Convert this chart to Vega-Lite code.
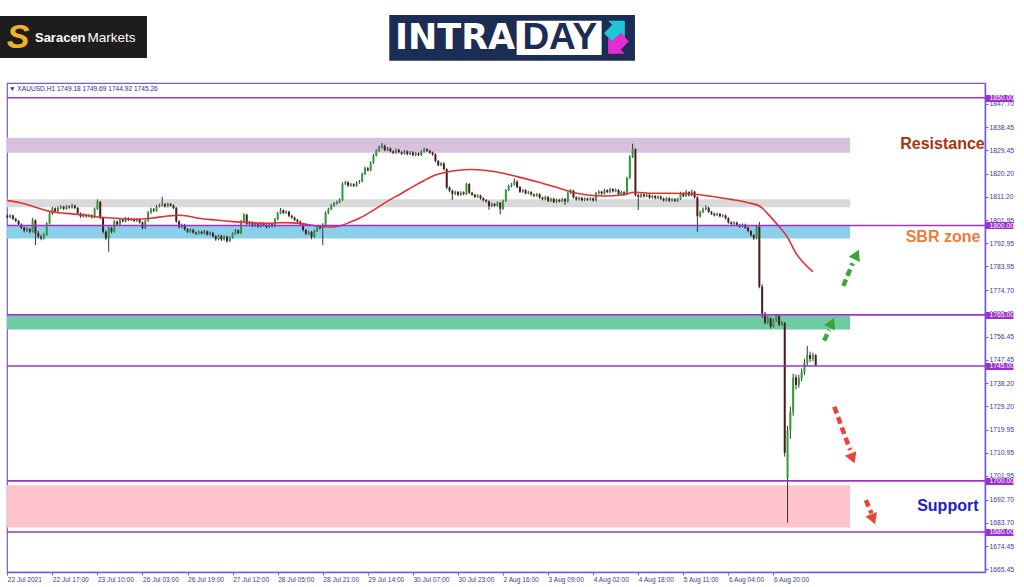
{
"$schema": "https://vega.github.io/schema/vega-lite/v6.json",
"width": 978, "height": 489,
"autosize": {"type": "none"},
"padding": {"left": 7, "top": 83, "right": 39, "bottom": 15},
"background": "white",
"config": {"font": "Liberation Sans", "view": {"stroke": "#6c5ce7", "strokeWidth": 1.2}, "axis": {"labelOverlap": false}, "scale": {"continuousPadding": 0}},
"datasets": {
"candles": [
{"i":0,"o":1803.8,"h":1804.3,"l":1802.7,"c":1803.2},{"i":1,"o":1803.2,"h":1804.4,"l":1802.8,"c":1803.9},{"i":2,"o":1803.9,"h":1804.2,"l":1802.1,"c":1802.6},{"i":3,"o":1802.6,"h":1803.0,"l":1801.2,"c":1801.8},{"i":4,"o":1801.8,"h":1802.1,"l":1799.9,"c":1800.4},{"i":5,"o":1800.4,"h":1800.8,"l":1798.5,"c":1799.1},{"i":6,"o":1799.1,"h":1799.5,"l":1797.2,"c":1798.0},{"i":7,"o":1798.0,"h":1799.3,"l":1797.5,"c":1798.6},{"i":8,"o":1798.6,"h":1799.0,"l":1796.9,"c":1797.6},{"i":9,"o":1797.6,"h":1802.9,"l":1797.2,"c":1802.0},
{"i":10,"o":1802.0,"h":1802.4,"l":1792.3,"c":1797.0},{"i":11,"o":1797.0,"h":1797.8,"l":1794.9,"c":1795.6},{"i":12,"o":1795.6,"h":1796.3,"l":1794.2,"c":1794.9},{"i":13,"o":1794.9,"h":1797.0,"l":1794.5,"c":1796.4},{"i":14,"o":1796.4,"h":1801.3,"l":1796.0,"c":1800.8},{"i":15,"o":1800.8,"h":1805.2,"l":1800.3,"c":1804.6},{"i":16,"o":1804.6,"h":1807.3,"l":1804.1,"c":1806.7},{"i":17,"o":1806.7,"h":1807.1,"l":1805.0,"c":1805.6},{"i":18,"o":1805.6,"h":1807.4,"l":1805.2,"c":1806.9},{"i":19,"o":1806.9,"h":1807.9,"l":1806.4,"c":1807.3},
{"i":20,"o":1807.3,"h":1807.7,"l":1806.0,"c":1806.5},{"i":21,"o":1806.5,"h":1807.9,"l":1806.1,"c":1807.4},{"i":22,"o":1807.4,"h":1807.8,"l":1806.5,"c":1807.0},{"i":23,"o":1807.0,"h":1808.4,"l":1806.6,"c":1807.8},{"i":24,"o":1807.8,"h":1808.1,"l":1806.4,"c":1806.9},{"i":25,"o":1806.9,"h":1807.2,"l":1804.2,"c":1804.7},{"i":26,"o":1804.7,"h":1805.1,"l":1803.0,"c":1803.5},{"i":27,"o":1803.5,"h":1804.8,"l":1803.1,"c":1804.2},{"i":28,"o":1804.2,"h":1804.6,"l":1803.1,"c":1803.6},{"i":29,"o":1803.6,"h":1804.5,"l":1803.2,"c":1804.0},
{"i":30,"o":1804.0,"h":1804.3,"l":1802.7,"c":1803.2},{"i":31,"o":1803.2,"h":1807.0,"l":1802.9,"c":1806.5},{"i":32,"o":1806.5,"h":1810.2,"l":1806.1,"c":1809.2},{"i":33,"o":1809.2,"h":1809.6,"l":1802.4,"c":1803.0},{"i":34,"o":1803.0,"h":1803.4,"l":1796.8,"c":1797.5},{"i":35,"o":1797.5,"h":1798.0,"l":1794.2,"c":1795.0},{"i":36,"o":1795.0,"h":1799.6,"l":1789.7,"c":1799.0},{"i":37,"o":1799.0,"h":1799.5,"l":1796.9,"c":1797.6},{"i":38,"o":1797.6,"h":1802.1,"l":1797.2,"c":1801.5},{"i":39,"o":1801.5,"h":1801.9,"l":1799.8,"c":1800.4},
{"i":40,"o":1800.4,"h":1802.7,"l":1800.0,"c":1802.2},{"i":41,"o":1802.2,"h":1802.6,"l":1801.1,"c":1801.6},{"i":42,"o":1801.6,"h":1803.3,"l":1801.2,"c":1802.8},{"i":43,"o":1802.8,"h":1803.2,"l":1801.6,"c":1802.1},{"i":44,"o":1802.1,"h":1803.0,"l":1801.7,"c":1802.5},{"i":45,"o":1802.5,"h":1802.9,"l":1801.3,"c":1801.8},{"i":46,"o":1801.8,"h":1802.9,"l":1801.4,"c":1802.4},{"i":47,"o":1802.4,"h":1802.7,"l":1800.7,"c":1801.2},{"i":48,"o":1801.2,"h":1801.5,"l":1798.4,"c":1799.0},{"i":49,"o":1799.0,"h":1802.3,"l":1798.6,"c":1801.8},
{"i":50,"o":1801.8,"h":1805.6,"l":1801.4,"c":1805.0},{"i":51,"o":1805.0,"h":1806.9,"l":1804.6,"c":1806.3},{"i":52,"o":1806.3,"h":1806.8,"l":1805.2,"c":1805.8},{"i":53,"o":1805.8,"h":1808.0,"l":1805.4,"c":1807.4},{"i":54,"o":1807.4,"h":1808.5,"l":1807.0,"c":1807.9},{"i":55,"o":1807.9,"h":1811.2,"l":1807.4,"c":1808.3},{"i":56,"o":1808.3,"h":1808.8,"l":1807.0,"c":1807.5},{"i":57,"o":1807.5,"h":1808.9,"l":1807.1,"c":1808.4},{"i":58,"o":1808.4,"h":1808.8,"l":1807.3,"c":1807.8},{"i":59,"o":1807.8,"h":1808.2,"l":1806.4,"c":1806.9},
{"i":60,"o":1806.9,"h":1807.2,"l":1801.0,"c":1801.6},{"i":61,"o":1801.6,"h":1802.0,"l":1798.8,"c":1799.4},{"i":62,"o":1799.4,"h":1800.7,"l":1799.0,"c":1800.2},{"i":63,"o":1800.2,"h":1800.6,"l":1797.9,"c":1798.5},{"i":64,"o":1798.5,"h":1798.9,"l":1797.0,"c":1797.6},{"i":65,"o":1797.6,"h":1798.8,"l":1797.2,"c":1798.3},{"i":66,"o":1798.3,"h":1798.7,"l":1796.7,"c":1797.2},{"i":67,"o":1797.2,"h":1797.6,"l":1796.2,"c":1796.8},{"i":68,"o":1796.8,"h":1798.0,"l":1796.4,"c":1797.5},{"i":69,"o":1797.5,"h":1797.9,"l":1796.4,"c":1796.9},
{"i":70,"o":1796.9,"h":1798.2,"l":1796.5,"c":1797.7},{"i":71,"o":1797.7,"h":1798.0,"l":1796.0,"c":1796.5},{"i":72,"o":1796.5,"h":1797.6,"l":1796.1,"c":1797.1},{"i":73,"o":1797.1,"h":1797.4,"l":1795.2,"c":1795.8},{"i":74,"o":1795.8,"h":1796.2,"l":1794.0,"c":1794.6},{"i":75,"o":1794.6,"h":1796.4,"l":1794.2,"c":1795.9},{"i":76,"o":1795.9,"h":1796.3,"l":1793.9,"c":1794.5},{"i":77,"o":1794.5,"h":1796.1,"l":1794.1,"c":1795.6},{"i":78,"o":1795.6,"h":1796.0,"l":1793.2,"c":1793.9},{"i":79,"o":1793.9,"h":1795.7,"l":1793.5,"c":1795.2},
{"i":80,"o":1795.2,"h":1797.3,"l":1794.8,"c":1796.8},{"i":81,"o":1796.8,"h":1798.6,"l":1796.4,"c":1798.1},{"i":82,"o":1798.1,"h":1798.5,"l":1796.5,"c":1797.0},{"i":83,"o":1797.0,"h":1802.2,"l":1796.6,"c":1801.6},{"i":84,"o":1801.6,"h":1804.8,"l":1801.2,"c":1804.2},{"i":85,"o":1804.2,"h":1804.6,"l":1800.0,"c":1800.6},{"i":86,"o":1800.6,"h":1801.8,"l":1800.1,"c":1801.3},{"i":87,"o":1801.3,"h":1801.6,"l":1799.3,"c":1799.8},{"i":88,"o":1799.8,"h":1801.2,"l":1799.4,"c":1800.7},{"i":89,"o":1800.7,"h":1801.0,"l":1799.0,"c":1799.5},
{"i":90,"o":1799.5,"h":1801.4,"l":1799.1,"c":1800.9},{"i":91,"o":1800.9,"h":1801.3,"l":1799.6,"c":1800.1},{"i":92,"o":1800.1,"h":1800.5,"l":1798.8,"c":1799.3},{"i":93,"o":1799.3,"h":1801.0,"l":1799.0,"c":1800.5},{"i":94,"o":1800.5,"h":1800.9,"l":1799.2,"c":1799.7},{"i":95,"o":1799.7,"h":1802.9,"l":1799.3,"c":1802.4},{"i":96,"o":1802.4,"h":1805.3,"l":1802.0,"c":1804.8},{"i":97,"o":1804.8,"h":1806.8,"l":1804.4,"c":1805.9},{"i":98,"o":1805.9,"h":1806.3,"l":1804.4,"c":1804.9},{"i":99,"o":1804.9,"h":1805.9,"l":1804.5,"c":1805.4},
{"i":100,"o":1805.4,"h":1805.7,"l":1803.3,"c":1803.8},{"i":101,"o":1803.8,"h":1804.2,"l":1802.6,"c":1803.1},{"i":102,"o":1803.1,"h":1803.5,"l":1801.7,"c":1802.2},{"i":103,"o":1802.2,"h":1802.6,"l":1801.0,"c":1801.5},{"i":104,"o":1801.5,"h":1801.9,"l":1799.9,"c":1800.4},{"i":105,"o":1800.4,"h":1800.8,"l":1797.6,"c":1798.2},{"i":106,"o":1798.2,"h":1798.6,"l":1796.2,"c":1796.8},{"i":107,"o":1796.8,"h":1797.9,"l":1796.3,"c":1797.4},{"i":108,"o":1797.4,"h":1797.8,"l":1794.6,"c":1795.5},{"i":109,"o":1795.5,"h":1798.3,"l":1795.1,"c":1797.8},
{"i":110,"o":1797.8,"h":1800.1,"l":1797.4,"c":1799.6},{"i":111,"o":1799.6,"h":1800.1,"l":1798.4,"c":1798.9},{"i":112,"o":1798.9,"h":1800.8,"l":1792.3,"c":1800.2},{"i":113,"o":1800.2,"h":1805.5,"l":1799.8,"c":1804.9},{"i":114,"o":1804.9,"h":1806.9,"l":1804.4,"c":1806.3},{"i":115,"o":1806.3,"h":1808.3,"l":1805.9,"c":1807.8},{"i":116,"o":1807.8,"h":1809.2,"l":1807.3,"c":1808.6},{"i":117,"o":1808.6,"h":1809.7,"l":1808.1,"c":1809.1},{"i":118,"o":1809.1,"h":1810.6,"l":1808.7,"c":1810.0},{"i":119,"o":1810.0,"h":1816.9,"l":1809.6,"c":1816.3},
{"i":120,"o":1816.3,"h":1817.5,"l":1815.8,"c":1816.9},{"i":121,"o":1816.9,"h":1817.3,"l":1815.1,"c":1815.6},{"i":122,"o":1815.6,"h":1816.6,"l":1815.2,"c":1816.1},{"i":123,"o":1816.1,"h":1816.5,"l":1815.0,"c":1815.5},{"i":124,"o":1815.5,"h":1817.3,"l":1815.1,"c":1816.8},{"i":125,"o":1816.8,"h":1817.8,"l":1816.3,"c":1817.2},{"i":126,"o":1817.2,"h":1820.7,"l":1816.8,"c":1820.1},{"i":127,"o":1820.1,"h":1823.0,"l":1819.7,"c":1822.4},{"i":128,"o":1822.4,"h":1822.9,"l":1821.1,"c":1821.6},{"i":129,"o":1821.6,"h":1825.1,"l":1821.2,"c":1824.5},
{"i":130,"o":1824.5,"h":1828.0,"l":1824.1,"c":1827.4},{"i":131,"o":1827.4,"h":1829.8,"l":1827.0,"c":1829.2},{"i":132,"o":1829.2,"h":1831.2,"l":1828.8,"c":1830.6},{"i":133,"o":1830.6,"h":1832.3,"l":1830.1,"c":1831.2},{"i":134,"o":1831.2,"h":1831.6,"l":1829.0,"c":1829.5},{"i":135,"o":1829.5,"h":1830.7,"l":1829.1,"c":1830.1},{"i":136,"o":1830.1,"h":1830.5,"l":1828.5,"c":1829.0},{"i":137,"o":1829.0,"h":1829.4,"l":1827.9,"c":1828.4},{"i":138,"o":1828.4,"h":1830.1,"l":1828.0,"c":1829.6},{"i":139,"o":1829.6,"h":1830.0,"l":1828.2,"c":1828.7},
{"i":140,"o":1828.7,"h":1829.1,"l":1827.6,"c":1828.1},{"i":141,"o":1828.1,"h":1829.5,"l":1827.7,"c":1829.0},{"i":142,"o":1829.0,"h":1829.4,"l":1827.4,"c":1827.9},{"i":143,"o":1827.9,"h":1829.1,"l":1827.5,"c":1828.6},{"i":144,"o":1828.6,"h":1829.0,"l":1827.0,"c":1827.5},{"i":145,"o":1827.5,"h":1828.7,"l":1827.1,"c":1828.2},{"i":146,"o":1828.2,"h":1828.6,"l":1827.1,"c":1827.6},{"i":147,"o":1827.6,"h":1829.4,"l":1827.2,"c":1828.9},{"i":148,"o":1828.9,"h":1830.4,"l":1828.5,"c":1829.8},{"i":149,"o":1829.8,"h":1830.2,"l":1828.7,"c":1829.2},
{"i":150,"o":1829.2,"h":1829.6,"l":1828.0,"c":1828.5},{"i":151,"o":1828.5,"h":1828.9,"l":1827.3,"c":1827.8},{"i":152,"o":1827.8,"h":1828.2,"l":1824.7,"c":1825.2},{"i":153,"o":1825.2,"h":1825.6,"l":1823.1,"c":1823.6},{"i":154,"o":1823.6,"h":1824.8,"l":1823.2,"c":1824.3},{"i":155,"o":1824.3,"h":1824.7,"l":1821.5,"c":1822.0},{"i":156,"o":1822.0,"h":1822.4,"l":1814.2,"c":1814.8},{"i":157,"o":1814.8,"h":1815.3,"l":1813.0,"c":1813.6},{"i":158,"o":1813.6,"h":1814.0,"l":1810.0,"c":1812.4},{"i":159,"o":1812.4,"h":1813.6,"l":1811.9,"c":1813.1},
{"i":160,"o":1813.1,"h":1813.5,"l":1811.5,"c":1812.0},{"i":161,"o":1812.0,"h":1813.4,"l":1811.6,"c":1812.9},{"i":162,"o":1812.9,"h":1813.3,"l":1811.8,"c":1812.3},{"i":163,"o":1812.3,"h":1816.7,"l":1811.9,"c":1816.2},{"i":164,"o":1816.2,"h":1816.6,"l":1812.3,"c":1812.8},{"i":165,"o":1812.8,"h":1813.2,"l":1811.5,"c":1812.0},{"i":166,"o":1812.0,"h":1812.4,"l":1810.7,"c":1811.2},{"i":167,"o":1811.2,"h":1812.2,"l":1810.8,"c":1811.7},{"i":168,"o":1811.7,"h":1812.0,"l":1810.1,"c":1810.6},{"i":169,"o":1810.6,"h":1811.0,"l":1809.4,"c":1809.9},
{"i":170,"o":1809.9,"h":1810.3,"l":1808.9,"c":1809.4},{"i":171,"o":1809.4,"h":1809.8,"l":1806.1,"c":1807.6},{"i":172,"o":1807.6,"h":1808.9,"l":1807.2,"c":1808.4},{"i":173,"o":1808.4,"h":1808.8,"l":1807.3,"c":1807.8},{"i":174,"o":1807.8,"h":1809.4,"l":1807.4,"c":1808.9},{"i":175,"o":1808.9,"h":1809.2,"l":1804.3,"c":1806.5},{"i":176,"o":1806.5,"h":1810.1,"l":1806.1,"c":1809.6},{"i":177,"o":1809.6,"h":1814.3,"l":1809.2,"c":1813.8},{"i":178,"o":1813.8,"h":1816.0,"l":1813.4,"c":1815.4},{"i":179,"o":1815.4,"h":1816.6,"l":1814.9,"c":1816.0},
{"i":180,"o":1816.0,"h":1818.4,"l":1815.6,"c":1817.2},{"i":181,"o":1817.2,"h":1817.6,"l":1814.5,"c":1815.0},{"i":182,"o":1815.0,"h":1815.4,"l":1812.7,"c":1813.2},{"i":183,"o":1813.2,"h":1814.3,"l":1812.8,"c":1813.8},{"i":184,"o":1813.8,"h":1814.2,"l":1812.1,"c":1812.6},{"i":185,"o":1812.6,"h":1813.5,"l":1812.2,"c":1813.0},{"i":186,"o":1813.0,"h":1813.4,"l":1811.6,"c":1812.1},{"i":187,"o":1812.1,"h":1812.5,"l":1811.1,"c":1811.6},{"i":188,"o":1811.6,"h":1812.7,"l":1811.2,"c":1812.2},{"i":189,"o":1812.2,"h":1812.6,"l":1810.4,"c":1810.9},
{"i":190,"o":1810.9,"h":1811.3,"l":1809.8,"c":1810.3},{"i":191,"o":1810.3,"h":1811.6,"l":1809.9,"c":1811.1},{"i":192,"o":1811.1,"h":1811.5,"l":1809.1,"c":1809.6},{"i":193,"o":1809.6,"h":1810.9,"l":1809.2,"c":1810.4},{"i":194,"o":1810.4,"h":1810.8,"l":1808.7,"c":1809.2},{"i":195,"o":1809.2,"h":1810.5,"l":1808.8,"c":1810.0},{"i":196,"o":1810.0,"h":1810.4,"l":1809.0,"c":1809.5},{"i":197,"o":1809.5,"h":1810.8,"l":1809.1,"c":1810.3},{"i":198,"o":1810.3,"h":1810.7,"l":1808.0,"c":1809.4},{"i":199,"o":1809.4,"h":1813.3,"l":1809.0,"c":1812.8},
{"i":200,"o":1812.8,"h":1814.2,"l":1812.3,"c":1813.6},{"i":201,"o":1813.6,"h":1814.0,"l":1810.5,"c":1811.0},{"i":202,"o":1811.0,"h":1811.4,"l":1809.7,"c":1810.2},{"i":203,"o":1810.2,"h":1811.3,"l":1809.8,"c":1810.8},{"i":204,"o":1810.8,"h":1811.2,"l":1809.4,"c":1809.9},{"i":205,"o":1809.9,"h":1811.0,"l":1809.5,"c":1810.5},{"i":206,"o":1810.5,"h":1810.9,"l":1809.6,"c":1810.1},{"i":207,"o":1810.1,"h":1811.1,"l":1809.7,"c":1810.6},{"i":208,"o":1810.6,"h":1811.0,"l":1809.3,"c":1809.8},{"i":209,"o":1809.8,"h":1813.1,"l":1809.4,"c":1812.6},
{"i":210,"o":1812.6,"h":1813.8,"l":1812.1,"c":1813.2},{"i":211,"o":1813.2,"h":1813.6,"l":1812.0,"c":1812.5},{"i":212,"o":1812.5,"h":1814.4,"l":1812.1,"c":1813.8},{"i":213,"o":1813.8,"h":1814.2,"l":1812.6,"c":1813.1},{"i":214,"o":1813.1,"h":1814.8,"l":1812.7,"c":1814.2},{"i":215,"o":1814.2,"h":1814.6,"l":1812.9,"c":1813.4},{"i":216,"o":1813.4,"h":1814.5,"l":1813.0,"c":1813.9},{"i":217,"o":1813.9,"h":1814.2,"l":1811.8,"c":1812.3},{"i":218,"o":1812.3,"h":1813.5,"l":1811.9,"c":1813.0},{"i":219,"o":1813.0,"h":1813.4,"l":1811.7,"c":1812.2},
{"i":220,"o":1812.2,"h":1819.1,"l":1811.8,"c":1818.5},{"i":221,"o":1818.5,"h":1827.5,"l":1818.1,"c":1826.9},{"i":222,"o":1826.9,"h":1832.0,"l":1826.4,"c":1829.8},{"i":223,"o":1829.8,"h":1830.2,"l":1811.3,"c":1811.9},{"i":224,"o":1811.9,"h":1812.4,"l":1806.0,"c":1811.2},{"i":225,"o":1811.2,"h":1812.6,"l":1810.8,"c":1812.1},{"i":226,"o":1812.1,"h":1812.5,"l":1810.9,"c":1811.4},{"i":227,"o":1811.4,"h":1812.4,"l":1811.0,"c":1811.9},{"i":228,"o":1811.9,"h":1812.3,"l":1810.4,"c":1810.9},{"i":229,"o":1810.9,"h":1812.0,"l":1810.5,"c":1811.5},
{"i":230,"o":1811.5,"h":1811.9,"l":1810.2,"c":1810.7},{"i":231,"o":1810.7,"h":1811.8,"l":1810.3,"c":1811.3},{"i":232,"o":1811.3,"h":1811.7,"l":1810.0,"c":1810.5},{"i":233,"o":1810.5,"h":1810.9,"l":1809.3,"c":1809.8},{"i":234,"o":1809.8,"h":1811.1,"l":1809.4,"c":1810.6},{"i":235,"o":1810.6,"h":1811.0,"l":1809.2,"c":1809.7},{"i":236,"o":1809.7,"h":1810.8,"l":1809.3,"c":1810.3},{"i":237,"o":1810.3,"h":1810.7,"l":1809.1,"c":1809.6},{"i":238,"o":1809.6,"h":1810.9,"l":1809.2,"c":1810.4},{"i":239,"o":1810.4,"h":1813.2,"l":1810.0,"c":1812.6},
{"i":240,"o":1812.6,"h":1813.0,"l":1811.0,"c":1811.5},{"i":241,"o":1811.5,"h":1813.9,"l":1811.1,"c":1813.0},{"i":242,"o":1813.0,"h":1813.4,"l":1811.3,"c":1811.8},{"i":243,"o":1811.8,"h":1814.0,"l":1811.4,"c":1813.2},{"i":244,"o":1813.2,"h":1813.6,"l":1810.5,"c":1811.0},{"i":245,"o":1811.0,"h":1811.4,"l":1797.5,"c":1803.6},{"i":246,"o":1803.6,"h":1805.8,"l":1803.1,"c":1805.2},{"i":247,"o":1805.2,"h":1807.0,"l":1804.8,"c":1806.4},{"i":248,"o":1806.4,"h":1807.9,"l":1805.9,"c":1806.9},{"i":249,"o":1806.9,"h":1807.3,"l":1804.8,"c":1805.3},
{"i":250,"o":1805.3,"h":1805.7,"l":1804.1,"c":1804.6},{"i":251,"o":1804.6,"h":1805.0,"l":1803.5,"c":1804.0},{"i":252,"o":1804.0,"h":1805.0,"l":1803.6,"c":1804.5},{"i":253,"o":1804.5,"h":1804.9,"l":1803.1,"c":1803.6},{"i":254,"o":1803.6,"h":1804.4,"l":1803.2,"c":1803.9},{"i":255,"o":1803.9,"h":1804.3,"l":1802.3,"c":1802.8},{"i":256,"o":1802.8,"h":1803.2,"l":1800.7,"c":1801.2},{"i":257,"o":1801.2,"h":1801.6,"l":1800.1,"c":1800.6},{"i":258,"o":1800.6,"h":1801.6,"l":1800.2,"c":1801.1},{"i":259,"o":1801.1,"h":1801.5,"l":1799.7,"c":1800.2},
{"i":260,"o":1800.2,"h":1800.6,"l":1799.1,"c":1799.6},{"i":261,"o":1799.6,"h":1800.8,"l":1799.2,"c":1800.3},{"i":262,"o":1800.3,"h":1800.7,"l":1798.6,"c":1799.1},{"i":263,"o":1799.1,"h":1799.5,"l":1797.3,"c":1797.8},{"i":264,"o":1797.8,"h":1798.2,"l":1795.7,"c":1796.2},{"i":265,"o":1796.2,"h":1796.6,"l":1794.3,"c":1795.0},{"i":266,"o":1795.0,"h":1800.1,"l":1794.6,"c":1799.5},{"i":267,"o":1799.5,"h":1801.4,"l":1775.4,"c":1776.0},{"i":268,"o":1776.0,"h":1777.0,"l":1763.8,"c":1765.5},{"i":269,"o":1765.5,"h":1766.2,"l":1761.2,"c":1762.0},
{"i":270,"o":1762.0,"h":1764.4,"l":1761.4,"c":1763.6},{"i":271,"o":1763.6,"h":1764.0,"l":1759.6,"c":1760.4},{"i":272,"o":1760.4,"h":1763.5,"l":1760.0,"c":1762.8},{"i":273,"o":1762.8,"h":1765.3,"l":1762.3,"c":1764.6},{"i":274,"o":1764.6,"h":1765.0,"l":1760.6,"c":1761.2},{"i":275,"o":1761.2,"h":1762.6,"l":1760.8,"c":1761.8},{"i":276,"o":1761.8,"h":1762.3,"l":1709.5,"c":1711.0},{"i":277,"o":1701.0,"h":1721.5,"l":1683.7,"c":1720.0},{"i":278,"o":1720.0,"h":1729.0,"l":1716.5,"c":1727.0},{"i":279,"o":1727.0,"h":1742.0,"l":1725.5,"c":1740.5},
{"i":280,"o":1740.5,"h":1741.6,"l":1735.8,"c":1737.6},{"i":281,"o":1737.6,"h":1741.5,"l":1736.5,"c":1740.2},{"i":282,"o":1740.2,"h":1744.0,"l":1739.0,"c":1742.5},{"i":283,"o":1742.5,"h":1747.8,"l":1741.5,"c":1746.2},{"i":284,"o":1746.2,"h":1752.8,"l":1745.0,"c":1749.3},{"i":285,"o":1749.3,"h":1750.6,"l":1746.5,"c":1747.8},{"i":286,"o":1747.8,"h":1750.2,"l":1746.8,"c":1749.2},{"i":287,"o":1749.18,"h":1749.69,"l":1744.92,"c":1745.26}
],
"ma": [
{"i":0,"ma":1809.7},{"i":5,"ma":1808.8},{"i":10,"ma":1807.1},{"i":15,"ma":1805.5},{"i":21,"ma":1804.7},{"i":27,"ma":1804.1},{"i":33,"ma":1803.2},{"i":39,"ma":1802.8},{"i":45,"ma":1802.4},{"i":51,"ma":1802.8},{"i":57,"ma":1803.7},{"i":61,"ma":1804.0},{"i":64,"ma":1803.7},{"i":68,"ma":1802.8},{"i":74,"ma":1802.1},{"i":80,"ma":1801.5},{"i":86,"ma":1801.1},{"i":92,"ma":1800.8},{"i":98,"ma":1801.1},{"i":104,"ma":1800.8},{"i":110,"ma":1799.8},{"i":115,"ma":1799.4},{"i":118,"ma":1799.8},{"i":122,"ma":1801.4},{"i":125,"ma":1802.8},{"i":130,"ma":1806.0},{"i":135,"ma":1809.5},{"i":140,"ma":1812.6},{"i":144,"ma":1815.2},{"i":148,"ma":1817.6},{"i":152,"ma":1819.7},{"i":158,"ma":1821.3},{"i":164,"ma":1821.9},{"i":170,"ma":1821.5},{"i":176,"ma":1820.4},{"i":182,"ma":1818.8},{"i":188,"ma":1817.1},{"i":194,"ma":1815.2},{"i":200,"ma":1813.2},{"i":206,"ma":1811.9},{"i":212,"ma":1811.5},{"i":218,"ma":1811.9},{"i":223,"ma":1813.0},{"i":229,"ma":1812.6},{"i":235,"ma":1812.6},{"i":241,"ma":1812.5},{"i":245,"ma":1812.1},{"i":251,"ma":1811.2},{"i":257,"ma":1810.2},{"i":263,"ma":1808.9},{"i":267,"ma":1807.6},{"i":270,"ma":1804.5},{"i":273,"ma":1800.8},{"i":277,"ma":1795.3},{"i":280,"ma":1789.1},{"i":283,"ma":1785.0},{"i":286,"ma":1781.9}
],
"zones": [
{"zone":"Resistance","lo":1828.4,"hi":1834.3,"from":-0.1,"to":299.2},
{"zone":"Pivot","lo":1807.1,"hi":1810.2,"from":-0.1,"to":299.2},
{"zone":"SBR","lo":1794.9,"hi":1799.9,"from":-0.1,"to":299.2},
{"zone":"Target","lo":1759.3,"hi":1764.6,"from":-0.1,"to":299.2},
{"zone":"Support","lo":1681.8,"hi":1698.3,"from":-0.1,"to":299.2}
],
"levels": [{"p":1850},{"p":1800},{"p":1765},{"p":1745},{"p":1700},{"p":1680}],
"arrows": [
{"kind":"up","i":296.8,"p":1776.3,"i2":300.1,"p2":1785.2,"hi":301.5,"hp":1788.6},
{"kind":"up","i":290.0,"p":1754.9,"i2":291.8,"p2":1759.1,"hi":292.7,"hp":1761.9},
{"kind":"down","i":293.6,"p":1729.0,"i2":299.2,"p2":1712.1,"hi":300.1,"hp":1708.8},
{"kind":"down","i":304.8,"p":1692.5,"i2":306.8,"p2":1687.3,"hi":307.4,"hp":1685.0}
],
"labels": [
{"label":"Resistance","i":332.0,"p":1831.9},
{"label":"SBR zone","i":332.2,"p":1795.5},
{"label":"Support","i":333.9,"p":1690.0}
]
},
"resolve": {"scale": {"y": "independent"}},
"layer": [
{
"resolve": {"scale": {"color": "independent"}},
"layer": [
{"data": {"name": "zones"}, "mark": {"type": "rect"},
 "encoding": {
  "x": {"field": "from", "type": "quantitative", "scale": {"domain": [-0.1, 347.1], "nice": false, "zero": false, "padding": 0}},
  "x2": {"field": "to"},
  "y": {"field": "lo", "type": "quantitative", "scale": {"domain": [1664.34, 1855.75], "nice": false, "zero": false}},
  "y2": {"field": "hi"},
  "color": {"field": "zone", "type": "nominal", "legend": null, "scale": {"domain": ["Resistance","Pivot","SBR","Target","Support"], "range": ["#d8c1dc","#d9d9d9","#8bcfea","#6dcca4","#ffc3cc"]}}
 }},
{"data": {"name": "candles"}, "mark": {"type": "rule", "color": "#333333", "strokeWidth": 1},
 "encoding": {
  "x": {"field": "i", "type": "quantitative", "scale": {"domain": [-0.1, 347.1], "nice": false, "zero": false, "padding": 0},
   "axis": {"orient": "bottom", "title": null, "grid": false, "tickCount": 40, "values": [0,16,32,48,64,80,96,112,128,144,160,176,192,208,224,240,256,272],
    "labelExpr": "['22 Jul 2021','22 Jul 17:00','23 Jul 10:00','26 Jul 03:00','26 Jul 19:00','27 Jul 12:00','28 Jul 05:00','28 Jul 21:00','29 Jul 14:00','30 Jul 07:00','30 Jul 23:00','2 Aug 16:00','3 Aug 09:00','4 Aug 02:00','4 Aug 18:00','5 Aug 11:00','6 Aug 04:00','6 Aug 20:00'][round(datum.value/16)]",
    "labelAlign": "left", "labelPadding": 1, "tickSize": 3, "tickColor": "#6c5ce7", "domainColor": "#6c5ce7", "domainWidth": 1.5, "labelFont": "Liberation Sans", "labelFontSize": 6.6, "labelColor": "#3a3aa8", "labelOverlap": false, "labelFlush": false, "labelBound": false}},
  "y": {"field": "l", "type": "quantitative", "scale": {"domain": [1664.34, 1855.75], "nice": false, "zero": false},
   "axis": {"orient": "right", "title": null, "grid": false, "tickCount": 40, "values": [1847.7,1838.45,1829.45,1820.2,1811.2,1801.95,1792.95,1783.95,1774.7,1765.45,1756.45,1747.45,1738.2,1729.2,1719.95,1710.95,1701.95,1692.7,1683.7,1674.45,1665.45],
    "format": ".2f", "tickSize": 3, "tickColor": "#6c5ce7", "domainColor": "#6c5ce7", "domainWidth": 1.5, "labelPadding": 1, "labelFont": "Liberation Sans", "labelFontSize": 6.8, "labelColor": "#3a3aa8", "labelOverlap": false, "labelFlush": false, "labelBound": false}},
  "y2": {"field": "h"}
 }},
{"data": {"name": "candles"}, "mark": {"type": "bar", "size": 2},
 "encoding": {
  "x": {"field": "i", "type": "quantitative"},
  "y": {"field": "o", "type": "quantitative"},
  "y2": {"field": "c"},
  "color": {"condition": {"test": "datum.c >= datum.o", "value": "#2f9d3b"}, "value": "#4e1b1b"}
 }},
{"data": {"name": "ma"}, "mark": {"type": "line", "color": "#e33131", "strokeWidth": 1.6, "interpolate": "monotone"},
 "encoding": {"x": {"field": "i", "type": "quantitative"}, "y": {"field": "ma", "type": "quantitative"}}},
{"data": {"name": "arrows"}, "mark": {"type": "rule", "strokeWidth": 4.5, "strokeDash": [7, 4], "strokeCap": "butt"},
 "encoding": {
  "x": {"field": "i", "type": "quantitative"}, "y": {"field": "p", "type": "quantitative"},
  "x2": {"field": "i2"}, "y2": {"field": "p2"},
  "color": {"field": "kind", "type": "nominal", "legend": null, "scale": {"domain": ["up","down"], "range": ["#3aa63a","#ef4236"]}}
 }},
{"data": {"name": "arrows"}, "transform": [{"filter": "datum.kind == 'up'"}],
 "mark": {"type": "point", "shape": "triangle-up", "filled": true, "size": 150, "angle": 25, "opacity": 1, "color": "#3aa63a"},
 "encoding": {"x": {"field": "hi", "type": "quantitative"}, "y": {"field": "hp", "type": "quantitative"}}},
{"data": {"name": "arrows"}, "transform": [{"filter": "datum.kind == 'down'"}],
 "mark": {"type": "point", "shape": "triangle-up", "filled": true, "size": 150, "angle": 158, "opacity": 1, "color": "#ef4236"},
 "encoding": {"x": {"field": "hi", "type": "quantitative"}, "y": {"field": "hp", "type": "quantitative"}}},
{"data": {"name": "labels"}, "mark": {"type": "text", "font": "Liberation Sans", "fontWeight": "bold", "fontSize": 16, "align": "center", "baseline": "middle"},
 "encoding": {
  "x": {"field": "i", "type": "quantitative"}, "y": {"field": "p", "type": "quantitative"},
  "text": {"field": "label"},
  "color": {"field": "label", "type": "nominal", "legend": null, "scale": {"domain": ["Resistance","SBR zone","Support"], "range": ["#a8320f","#f27a3a","#1d1dcf"]}}
 }},
{"data": {"values": [{}]}, "mark": {"type": "text", "text": "▼ XAUUSD,H1  1749.18 1749.69 1744.92 1745.26", "font": "Liberation Sans", "fontSize": 6.6, "color": "#2b2b8a", "align": "left", "baseline": "middle"},
 "encoding": {"x": {"datum": 0.6, "type": "quantitative"}, "y": {"datum": 1853.3, "type": "quantitative"}}},
{"data": {"values": [{}]}, "mark": {"type": "rect", "color": "#1d1d1d"},
 "encoding": {"x": {"datum": -2.59, "type": "quantitative"}, "x2": {"datum": 49.59}, "y": {"datum": 1881.98, "type": "quantitative"}, "y2": {"datum": 1865.54}}},
{"data": {"values": [{}]}, "mark": {"type": "text", "text": "S", "font": "Liberation Sans", "fontWeight": "bold", "fontStyle": "italic", "fontSize": 34, "color": "#f0b12a", "align": "center", "baseline": "middle"},
 "encoding": {"x": {"datum": 3.8, "type": "quantitative"}, "y": {"datum": 1873.4, "type": "quantitative"}}},
{"data": {"values": [{}]}, "mark": {"type": "text", "text": "Saracen", "font": "Liberation Sans", "fontWeight": "bold", "fontSize": 13, "color": "#ffffff", "align": "left", "baseline": "middle"},
 "encoding": {"x": {"datum": 9.83, "type": "quantitative"}, "y": {"datum": 1873.56, "type": "quantitative"}}},
{"data": {"values": [{}]}, "mark": {"type": "text", "text": "Markets", "font": "Liberation Sans", "fontWeight": "normal", "fontSize": 13.5, "color": "#ffffff", "align": "left", "baseline": "middle"},
 "encoding": {"x": {"datum": 28.47, "type": "quantitative"}, "y": {"datum": 1873.56, "type": "quantitative"}}},
{"data": {"values": [{}]}, "mark": {"type": "rect", "color": "#1b2c55"},
 "encoding": {"x": {"datum": 135.61, "type": "quantitative"}, "x2": {"datum": 222.83}, "y": {"datum": 1882.37, "type": "quantitative"}, "y2": {"datum": 1864.48}}},
{"data": {"values": [{}]}, "mark": {"type": "rect", "color": "#ffffff"},
 "encoding": {"x": {"datum": 180.83, "type": "quantitative"}, "x2": {"datum": 211.01}, "y": {"datum": 1880.14, "type": "quantitative"}, "y2": {"datum": 1866.71}}},
{"data": {"values": [{}]}, "mark": {"type": "text", "text": "INTRA", "font": "DejaVu Sans", "fontWeight": "bold", "fontSize": 35, "color": "#ffffff", "align": "left", "baseline": "middle"},
 "encoding": {"x": {"datum": 137.63, "type": "quantitative"}, "y": {"datum": 1873.25, "type": "quantitative"}}},
{"data": {"values": [{}]}, "mark": {"type": "text", "text": "DAY", "font": "Liberation Sans", "fontWeight": "bold", "fontSize": 37, "color": "#1b2c55", "align": "center", "baseline": "middle"},
 "encoding": {"x": {"datum": 196.13, "type": "quantitative"}, "y": {"datum": 1873.25, "type": "quantitative"}}},
{"data": {"values": [{}]}, "mark": {"type": "point", "shape": "M-0.5,1L0.5,1L0.5,0L1,0L0,-1L-1,0L-0.5,0Z", "filled": true, "opacity": 1, "size": 560, "angle": 45, "color": "#1fc6d6"},
 "encoding": {"x": {"datum": 216.27, "type": "quantitative"}, "y": {"datum": 1876.89, "type": "quantitative"}}},
{"data": {"values": [{}]}, "mark": {"type": "point", "shape": "M-0.5,1L0.5,1L0.5,0L1,0L0,-1L-1,0L-0.5,0Z", "filled": true, "opacity": 1, "size": 560, "angle": 225, "color": "#e62bd0"},
 "encoding": {"x": {"datum": 216.27, "type": "quantitative"}, "y": {"datum": 1870.43, "type": "quantitative"}}}
]
},
{"data": {"name": "levels"}, "mark": {"type": "rule", "color": "#9b34cf", "strokeWidth": 1.6},
 "encoding": {
  "y": {"field": "p", "type": "quantitative", "scale": {"domain": [1664.34, 1855.75], "nice": false, "zero": false},
   "axis": {"orient": "right", "title": null, "grid": false, "domain": false, "values": [1850,1800,1765,1745,1700,1680], "format": ".2f",
    "tickSize": 28, "tickWidth": 7, "tickColor": "#9b2fd0", "labelColor": "#ffffff", "labelPadding": -24, "labelAlign": "left",
    "labelFont": "Liberation Sans", "labelFontSize": 6.8, "labelOverlap": false, "labelFlush": false, "labelBound": false}}
 }}
]
}
